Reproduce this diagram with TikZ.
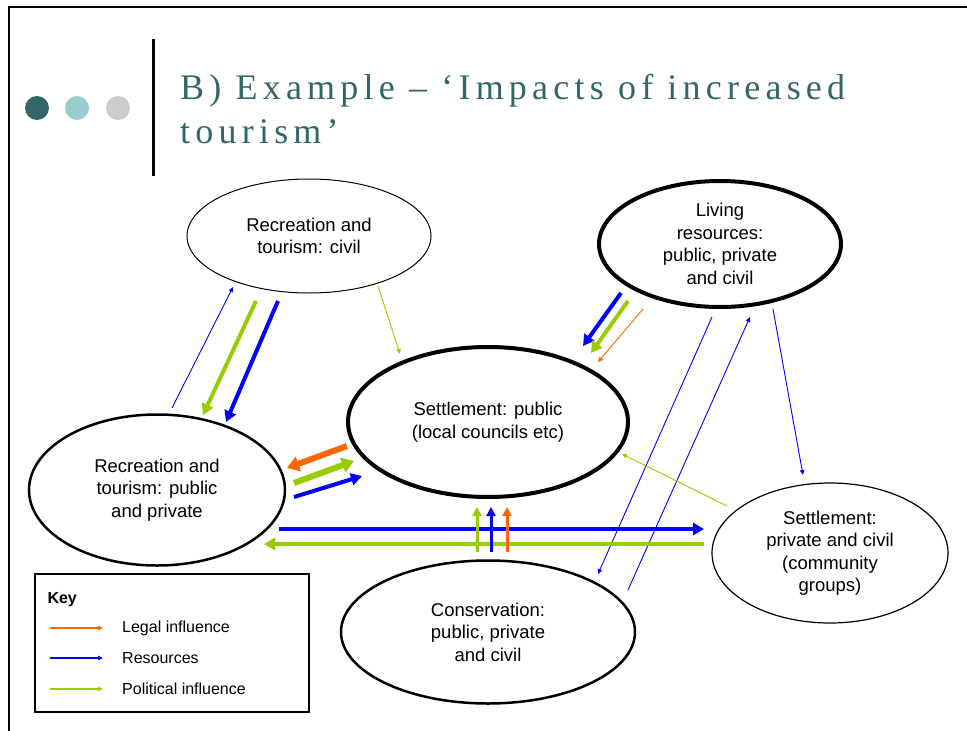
\documentclass[tikz,border=0pt]{standalone}
\usepackage{fontspec}
\usepackage{tikz}
\usetikzlibrary{shapes.geometric,arrows.meta,calc}
\newfontfamily\arialfont{Liberation Sans}
\newfontfamily\titlefont[LetterSpace=14.5]{Liberation Serif}
\definecolor{slidedark}{RGB}{51,102,102}
\definecolor{slidelight}{RGB}{153,204,204}
\definecolor{slidegrey}{RGB}{204,204,204}
\definecolor{legal}{RGB}{255,102,0}
\definecolor{resource}{RGB}{0,0,255}
\definecolor{political}{RGB}{153,204,0}
\tikzset{
    actor/.style={ellipse, draw, inner sep=0pt, align=center,
        font=\arialfont\fontsize{18.5}{22.5}\selectfont},
    thin arrow/.style={line width=0.9pt, -{Triangle[length=5pt,width=4.5pt]}},
    bold arrow/.style={line width=4pt, -{Triangle[length=11pt,width=12pt]}},
    fat arrow/.style={line width=6pt, -{Triangle[length=12pt,width=15pt]}},
    short arrow/.style={line width=3pt, -{Triangle[length=9pt,width=9pt]}},
}

\begin{document}
\begin{tikzpicture}[x=1pt,y=-1pt]
    \useasboundingbox (0,0) rectangle (967,731);
    % slide frame and title
    \draw[line width=2pt] (9,731) -- (9,7) -- (967,7);
    \draw[line width=3pt] (153,39) -- (153,176);
    \fill[slidedark] (37,108) circle (12);
    \fill[slidelight] (77,108) circle (12);
    \fill[slidegrey] (118,108) circle (12);
    \node[anchor=base west, align=left, text=slidedark, inner sep=0pt,
        font=\titlefont\fontsize{36}{44}\selectfont] (title) at (180,143)
        {B) Example – ‘Impacts of increased\\tourism’};

    % actors
    \node[actor, line width=1pt, minimum width=244, minimum height=114] (civil) at (309,236)
        {Recreation and\\tourism: civil};
    \node[actor, line width=4pt, minimum width=242, minimum height=126] (living) at (720,244)
        {Living\\resources:\\public, private\\and civil};
    \node[actor, line width=4pt, minimum width=280, minimum height=150] (council) at (488,422)
        {Settlement: public\\(local councils etc)};
    \node[actor, line width=2.5pt, minimum width=256, minimum height=151] (tourism) at (157,490)
        {Recreation and\\tourism: public\\and private};
    \node[actor, line width=1.2pt, minimum width=236, minimum height=140] (community) at (830,553)
        {Settlement:\\private and civil\\(community\\groups)};
    \node[actor, line width=2.5pt, minimum width=294, minimum height=143] (conserv) at (488,632)
        {Conservation:\\public, private\\and civil};

    % flows round recreation civil
    \draw[thin arrow, resource] ($(tourism)+(15,-82)$) -- ($(civil)+(-76,51)$);
    \draw[bold arrow, political] ($(civil)+(-53,65)$) -- ($(tourism)+(46,-75)$);
    \draw[bold arrow, resource] ($(civil)+(-31,65)$) -- ($(tourism)+(69,-68)$);
    \draw[thin arrow, political] ($(civil)+(69,50)$) -- ($(council)+(-88,-68)$);

    % flows from living resources
    \draw[bold arrow, resource] ($(living)+(-99,49)$) -- ($(council)+(95,-76)$);
    \draw[bold arrow, political] ($(living)+(-92,57)$) -- ($(council)+(103,-69)$);
    \draw[thin arrow, legal] ($(living)+(-77,65)$) -- ($(council)+(110,-60)$);
    \draw[thin arrow, resource] ($(living)+(-8,73)$) -- ($(conserv)+(110,-58)$);
    \draw[thin arrow, resource] ($(conserv)+(140,-42)$) -- ($(living)+(30,73)$);
    \draw[thin arrow, resource] ($(living)+(53,65)$) -- ($(community)+(-27,-78)$);
    \draw[thin arrow, political] ($(community)+(-103,-47)$) -- ($(council)+(134,32)$);

    % flows across the bottom
    \draw[bold arrow, resource] ($(tourism)+(122,39)$) -- ($(community)+(-126,-24)$);
    \draw[bold arrow, political] ($(community)+(-126,-9)$) -- ($(tourism)+(107,54)$);
    \draw[short arrow, political] ($(conserv)+(-11,-80)$) -- ($(council)+(-11,85)$);
    \draw[short arrow, resource] ($(conserv)+(3,-80)$) -- ($(council)+(3,85)$);
    \draw[short arrow, legal] ($(conserv)+(19,-80)$) -- ($(council)+(19,85)$);

    % flows between recreation public and council
    \draw[fat arrow, legal] ($(council)+(-141,24)$) -- ($(tourism)+(130,-22)$);
    \draw[fat arrow, political] ($(tourism)+(137,-7)$) -- ($(council)+(-134,39)$);
    \draw[bold arrow, resource] ($(tourism)+(137,7)$) -- ($(council)+(-126,54)$);

    % key
    \node[draw, line width=2pt, minimum width=274, minimum height=138, inner sep=0pt] (key) at (172,643) {};
    \node[anchor=west, font=\arialfont\bfseries\fontsize{16}{19}\selectfont] (keytitle) at (44,600) {Key};
    \foreach \col/\txt/\y in {legal/Legal influence/628, resource/Resources/658, political/Political influence/689}
    {
        \coordinate (from\col) at (50,\y);
        \node[anchor=west, inner sep=0pt, font=\arialfont\fontsize{16}{19}\selectfont] (lab\col) at (122,\y) {\txt};
        \draw[line width=1.3pt, \col, -{Triangle[length=5pt,width=4.5pt]}] (from\col) -- ($(from\col)+(53,0)$);
    }
\end{tikzpicture}
\end{document}
